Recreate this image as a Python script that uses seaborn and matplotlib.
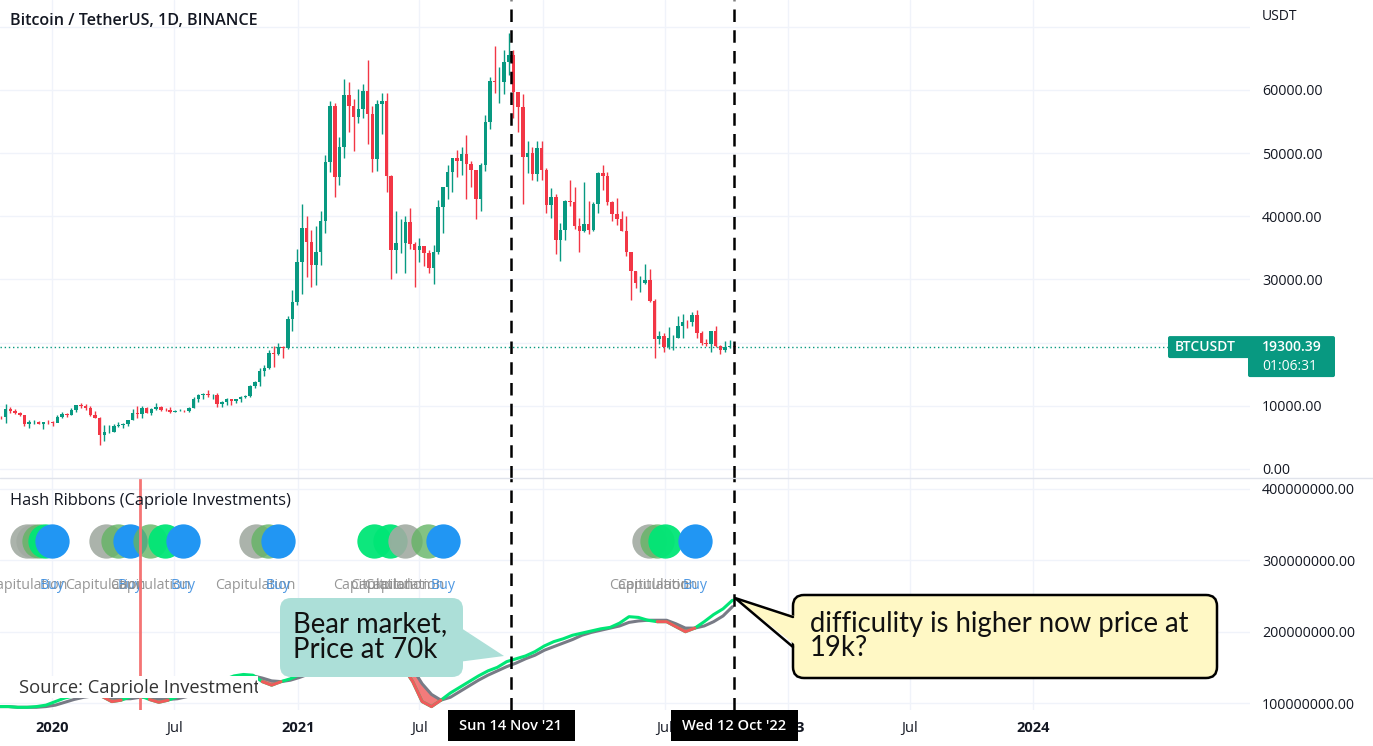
import numpy as np
import pandas as pd
import matplotlib
matplotlib.use("Agg")
import matplotlib.pyplot as plt
import matplotlib.dates as mdates
import matplotlib.transforms as mtransforms
from matplotlib.patches import FancyBboxPatch, Polygon, Rectangle
from matplotlib.lines import Line2D
from matplotlib.ticker import FuncFormatter
import seaborn as sns

sns.set_theme(style="white")
plt.rcParams["font.family"] = ["Open Sans", "DejaVu Sans"]

# -------------------------------------------------------------
# Data: weekly BTC/USDT candles (week starting 2019-10-14)
# -------------------------------------------------------------
candle_start = "2019-10-14"
first_open = 8300
close = [
    # 2019
    8220, 9530, 9200, 8800, 8500, 7050, 7400, 7500, 7100, 7500, 7400, 7350,
    # 2020
    8200, 8700, 8600, 9350, 10150, 9900, 9650, 8550, 8050, 5350, 5800, 5880, 6780,
    6900, 7120, 7700, 8900, 8700, 9680, 8900, 9450, 9750, 9350, 9300, 9000, 9250,
    9250, 9170, 9700, 11100, 11680, 11900, 11650, 11680, 10250, 10680, 11100, 10750,
    11050, 11400, 11500, 13100, 13800, 15500, 16000, 18400, 18200, 19350, 19200,
    23800, 26450, 32800,
    # 2021
    38200, 36000, 32300, 34300, 39200, 48600, 57400, 46200, 51000, 59200, 57500,
    55800, 57000, 59800, 56200, 49000, 57800, 58300, 46400, 34700, 35700, 35800,
    39100, 35600, 34700, 35300, 34200, 31800, 34300, 41500, 44600, 47000, 49300,
    48800, 49900, 48300, 47300, 42800, 48200, 54900, 61500, 61300, 61300, 64400,
    65500, 59700, 57300, 49400, 50100, 46700, 50800, 47300,
    # 2022
    41800, 43100, 36300, 37900, 42400, 42200, 38400, 37700, 38800, 37800, 42000,
    46800, 46400, 42200, 40400, 39500, 37700, 34300, 31300, 29400, 29500, 29900,
    26600, 20600, 21000, 19300, 20800, 20800, 22600, 23300, 23200, 24400, 21500,
    20000, 19800, 21800, 19400, 18900, 19300, 19400, 19300.39,
]
high = [
    8400, 10350, 9800, 9500, 9100, 8500, 7800, 7750, 7650, 7500, 7700, 7550,
    8500, 9000, 8800, 9600, 10200, 10500, 10250, 9950, 9200, 8200, 6900, 6950, 7200,
    7450, 7300, 7800, 9450, 10000, 9950, 9800, 9600, 10400, 9950, 9600, 9800, 9300,
    9450, 9300, 9750, 11450, 11800, 12100, 12450, 11800, 12100, 10700, 11200, 11000,
    11100, 11500, 11750, 13300, 14000, 15950, 16500, 18800, 19400, 19900, 19450,
    24300, 28400, 34800,
    41950, 40100, 37900, 38500, 40900, 49700, 58300, 58000, 52600, 61700, 61200,
    58600, 60100, 61000, 64800, 57500, 58400, 59500, 59600, 46600, 40800, 39500,
    40000, 41300, 36000, 36600, 35100, 34600, 35400, 42600, 44700, 48100, 49300,
    50500, 51000, 52900, 48800, 47400, 48500, 56100, 62000, 67000, 63700, 66300,
    69000, 66300, 59500, 59300, 51900, 51000, 52000, 52000,
    47600, 44500, 43500, 38900, 42600, 45800, 44700, 39800, 45400, 42500, 42300,
    47000, 48200, 47000, 42400, 42900, 40800, 40000, 34300, 31400, 30600, 32400,
    31700, 26900, 21900, 21500, 22500, 21200, 24200, 24600, 23600, 24900, 25200,
    21900, 20600, 21900, 22700, 19700, 20200, 20500, 19600,
]
low = [
    7900, 7300, 8900, 8700, 8400, 6800, 6500, 7200, 7050, 6400, 7100, 6850,
    7500, 8100, 8250, 8500, 9100, 9700, 9400, 8450, 8000, 3800, 4400, 5700, 5850,
    6700, 6450, 6800, 7700, 8100, 8100, 8800, 8600, 9350, 9250, 9200, 8900, 8950,
    9150, 9050, 9100, 9700, 10600, 11150, 11400, 11100, 9850, 9850, 10200, 10150,
    10400, 10550, 11200, 11400, 12900, 13200, 14800, 15800, 16200, 18000, 17600,
    19000, 21800, 26000,
    27700, 30400, 28800, 29200, 32300, 37400, 47000, 43000, 45000, 49300, 53300,
    50300, 54800, 55500, 51500, 47000, 47100, 53000, 43800, 30000, 31100, 34200,
    31000, 34800, 28800, 32700, 32100, 31000, 29300, 34000, 37300, 42800, 43900,
    46300, 46500, 42800, 44700, 39600, 40800, 47100, 53800, 59500, 58000, 59400,
    62300, 55600, 53300, 42000, 46800, 45700, 45600, 45700,
    40600, 39700, 34000, 32900, 36300, 41700, 38000, 34300, 37500, 37200, 37600,
    40500, 44200, 41800, 39200, 38600, 37600, 33700, 26700, 28700, 28000, 29300,
    26500, 17600, 19800, 18600, 19000, 18900, 20700, 20700, 22400, 22700, 20800,
    19600, 19500, 18500, 19300, 18200, 18500, 19100, 18900,
]
last_price = 19300.39
last_timer = "01:06:31"

# Hash ribbons, 30d (fast) and 60d (slow) hash rate SMA, millions, every 14 days
ribbon_start = "2019-10-14"
hr_fast_m = [
    95, 95, 94, 94, 95, 97, 102, 107, 110, 111,
    111, 109, 102, 104, 109, 110, 105, 101, 104, 109,
    111, 115, 120, 127, 133, 138, 140, 139, 130, 125,
    130, 134, 140, 146, 150, 153, 158, 162, 164, 165,
    158, 160, 163, 150, 130, 102, 95, 104, 114, 122,
    130, 138, 145, 150, 158, 162, 166, 172, 180, 186,
    190, 195, 198, 201, 204, 206, 212, 221, 220, 216,
    214, 214, 207, 200, 205, 214, 224, 232, 244,
]
hr_slow_m = [
    95, 95, 94, 94, 94, 95, 97, 101, 105, 108,
    110, 110, 107, 106, 106, 108, 108, 106, 105, 106,
    109, 112, 116, 121, 128, 134, 137, 138, 135, 131,
    130, 132, 136, 141, 146, 150, 154, 158, 162, 164,
    162, 160, 161, 157, 148, 127, 112, 104, 108, 116,
    124, 132, 139, 145, 151, 156, 162, 167, 174, 179,
    184, 189, 195, 199, 202, 205, 208, 213, 215, 216,
    216, 216, 211, 205, 205, 208, 214, 222, 235,
]

# Capitulation / buy signals
sig_dates = [
    "2019-11-25", "2019-12-04", "2019-12-13", "2019-12-22", "2020-01-01",
    "2020-03-21", "2020-04-08", "2020-04-26", "2020-05-26", "2020-06-17", "2020-07-14",
    "2020-10-30", "2020-11-17", "2020-12-02",
    "2021-04-24", "2021-05-18", "2021-06-09", "2021-07-14", "2021-08-05",
    "2022-06-08", "2022-06-20", "2022-07-02", "2022-08-15",
]
sig_kind = [
    "cap", "cap", "hold", "rec", "buy",
    "cap", "hold", "buy", "hold", "rec", "buy",
    "cap", "hold", "buy",
    "rec", "rec", "cap", "hold", "buy",
    "cap", "hold", "rec", "buy",
]
sig_text = [
    "Capitulation", "", "", "", "Buy",
    "Capitulation", "", "Buy", "Capitulation", "", "Buy",
    "Capitulation", "", "Buy",
    "Capitulation", "Capitulation", "Capitulation", "", "Buy",
    "Capitulation", "Capitulation", "", "Buy",
]

halving_date = "2020-05-11"
marker_dates = ["2021-11-14", "2022-10-12"]
marker_labels = ["Sun 14 Nov '21", "Wed 12 Oct '22"]

tick_dates = ["2020-01-01", "2020-07-01", "2021-01-01", "2021-07-01", "2022-01-01",
              "2022-07-01", "2023-01-01", "2023-07-01", "2024-01-01"]
tick_labels = ["2020", "Jul", "2021", "Jul", "2022", "Jul", "2023", "Jul", "2024"]
price_ticks = [0, 10000, 20000, 30000, 40000, 50000, 60000, 70000]
hash_ticks = [100e6, 200e6, 300e6, 400e6]

# -------------------------------------------------------------
# Figure layout (TradingView-like)
# -------------------------------------------------------------
W, H = 1373, 746
UP, DOWN = "#089981", "#f23645"
GRID = "#f0f3fa"
TXT = "#131722"
CALL_FONT = ["Lato", "DejaVu Sans"]
SIG_COL = {"cap": ("#a2aba2", 0.9), "hold": ("#64b464", 0.8),
           "rec": ("#00e676", 0.95), "buy": ("#2196f3", 1.0)}

fig = plt.figure(figsize=(W / 100, H / 100), dpi=100)
fig.patch.set_facecolor("white")
pix = mtransforms.Affine2D().scale(1 / W, 1 / H) + fig.transFigure


def fig_rect(x0, y0, x1, y1):
    return [x0 / W, 1 - y1 / H, (x1 - x0) / W, (y1 - y0) / H]


ax_p = fig.add_axes(fig_rect(0, 0, 1250, 478))
ax_h = fig.add_axes(fig_rect(0, 478, 1250, 710), sharex=ax_p)

# candles
close = np.array(close, dtype=float)
high = np.array(high, dtype=float)
low = np.array(low, dtype=float)
open_ = np.r_[first_open, close[:-1]]
weeks = pd.date_range(candle_start, periods=len(close), freq="7D") + pd.Timedelta(days=3)
cols = np.where(close >= open_, UP, DOWN)
ax_p.vlines(weeks, low, high, colors=cols, lw=1.0, zorder=2)
ax_p.bar(weeks, close - open_, bottom=open_, width=5.2, color=cols, lw=0, zorder=3)
ax_p.axhline(last_price, color=UP, ls=(0, (1, 2)), lw=1, zorder=1)

# hash ribbons
hr_x = pd.date_range(ribbon_start, periods=len(hr_fast_m), freq="14D")
fast = np.array(hr_fast_m) * 1e6
slow = np.array(hr_slow_m) * 1e6
below = fast < slow
ax_h.fill_between(hr_x, fast, slow, where=below, interpolate=True,
                  color="#f05a5a", alpha=0.8, lw=0, zorder=2)
sns.lineplot(x=hr_x, y=slow, ax=ax_h, color="#787b86", lw=2.2, zorder=3)
sns.lineplot(x=hr_x, y=fast, ax=ax_h, color="#00e676", lw=2.2, zorder=4)
red_mask = below | (np.r_[False, below[:-1]] & (fast <= slow))
ax_h.plot(hr_x, np.where(red_mask, fast, np.nan), color="#f05a5a", lw=2.2, zorder=5)

for d, k, t in zip(pd.to_datetime(sig_dates), sig_kind, sig_text):
    c, a = SIG_COL[k]
    ax_h.scatter([d], [327e6], s=610, color=c, alpha=a, lw=0, zorder=6, clip_on=False)
    if t:
        tc = "#3d8ee0" if t == "Buy" else "#8c8c8c"
        ax_h.text(d, 265e6, t, ha="center", va="center", fontsize=10.3, color=tc,
                  alpha=0.9, zorder=6)

ax_h.axvline(pd.Timestamp(halving_date), color="#f47474", lw=2, zorder=7)
for d in marker_dates:
    for ax in (ax_p, ax_h):
        ax.axvline(pd.Timestamp(d), color="black", lw=1.8, ls=(0, (5, 3.3)), zorder=8)

# axes styling
x0 = mdates.date2num(pd.Timestamp("2020-01-01"))
ax_p.set_xlim(x0 - 52 / 0.6717, x0 + (1250 - 52) / 0.6717)
ax_p.set_ylim(-1425, 74248)
ax_h.set_ylim(90.2e6, 415.4e6)

ax_h.set_xticks(pd.to_datetime(tick_dates))
ax_h.set_xticklabels(tick_labels)
for lab, txt in zip(ax_h.get_xticklabels(), tick_labels):
    if txt.isdigit():
        lab.set_fontweight("bold")
ax_h.tick_params(axis="x", length=0, pad=8, labelsize=10.5, labelcolor=TXT)
ax_p.tick_params(axis="x", length=0, labelbottom=False)

ax_p.set_yticks(price_ticks)
ax_h.set_yticks(hash_ticks)
ax_p.yaxis.set_major_formatter(FuncFormatter(lambda v, p: "" if v >= 70000 else f"{v:.2f}"))
ax_h.yaxis.set_major_formatter(FuncFormatter(lambda v, p: f"{v:.2f}"))
for ax in (ax_p, ax_h):
    ax.yaxis.tick_right()
    ax.tick_params(axis="y", length=0, pad=8.6, labelsize=10.3, labelcolor=TXT)
    ax.grid(True, color=GRID, lw=1)
    ax.set_axisbelow(True)
    ax.set_xlabel("")
    ax.set_ylabel("")
    for s in ax.spines.values():
        s.set_visible(False)

fig.add_artist(Line2D([0, W], [H - 478, H - 478], transform=pix, color="#e0e3eb", lw=1, zorder=1))

# -------------------------------------------------------------
# Texts, labels and callouts
# -------------------------------------------------------------
fig.text(10 / W, 1 - 21 / H, "Bitcoin / TetherUS, 1D, BINANCE", fontsize=11.6,
         color=TXT, va="center", fontweight="semibold")
fig.text(1262 / W, 1 - 17 / H, "USDT", fontsize=10, color=TXT, va="center")
fig.text(10 / W, 1 - 501 / H, "Hash Ribbons (Capriole Investments)", fontsize=11.8,
         color=TXT, va="center")

fig.canvas.draw()
py = H - ax_p.transData.transform((x0, last_price))[1]
fig.add_artist(FancyBboxPatch((1168, H - py - 11), 167, 22, boxstyle="round,pad=0,rounding_size=2",
                              transform=pix, fc=UP, ec="none", zorder=10))
fig.add_artist(FancyBboxPatch((1248, H - py - 30), 87, 22, boxstyle="round,pad=0,rounding_size=2",
                              transform=pix, fc=UP, ec="none", zorder=10))
fig.text(1175 / W, 1 - py / H, "BTCUSDT", fontsize=10, color="white", va="center",
         fontweight="semibold", zorder=11)
fig.text(1262 / W, 1 - py / H, f"{last_price:.2f}", fontsize=10, color="white",
         va="center", fontweight="semibold", zorder=11)
fig.text(1262 / W, 1 - (py + 19) / H, last_timer, fontsize=10, color="white",
         va="center", zorder=11)

for d, lab in zip(marker_dates, marker_labels):
    cx = ax_h.transData.transform((mdates.date2num(pd.Timestamp(d)), 0))[0]
    fig.add_artist(Rectangle((cx - 63, H - 741), 127, 31, transform=pix, fc="black",
                             ec="none", zorder=10))
    fig.text(cx / W, 1 - 726 / H, lab, fontsize=10.5, color="white", ha="center",
             va="center", fontweight="semibold", zorder=11)

src_bg = Rectangle((14, H - 698), 244, 22, transform=pix, fc="white", ec="none", zorder=15)
fig.add_artist(src_bg)
src = fig.text(19 / W, 1 - 693 / H, "Source: Capriole Investments", fontsize=13.2,
               color="#333333", va="baseline", zorder=16)
src.set_clip_path(src_bg)


def callout(bx0, by0, bx1, by1, side, base, tip, fc, ec=None, lw=0.0):
    fig.add_artist(FancyBboxPatch((bx0, H - by1), bx1 - bx0, by1 - by0,
                                  boxstyle="round,pad=0,rounding_size=11", transform=pix,
                                  fc=fc, ec=ec or "none", lw=lw, zorder=20))
    ex = bx0 if side == "left" else bx1
    inset = 5 if side == "left" else -5
    fig.add_artist(Polygon([(ex + inset, H - base[0]), (tip[0], H - tip[1]),
                            (ex + inset, H - base[1])], closed=True, transform=pix,
                           fc=fc, ec="none", zorder=21))
    if ec:
        fig.add_artist(Line2D([ex, tip[0], ex], [H - base[0], H - tip[1], H - base[1]],
                              transform=pix, color=ec, lw=lw, zorder=22,
                              solid_joinstyle="miter"))


callout(280, 598, 463, 677, "right", (626, 662), (504, 656), "#acdfd8")
fig.text(293 / W, 1 - 632 / H, "Bear market,", fontsize=19.8, family=CALL_FONT,
         color="#111111", va="baseline", zorder=23)
fig.text(293 / W, 1 - 658 / H, "Price at 70k", fontsize=19.8, family=CALL_FONT,
         color="#111111", va="baseline", zorder=23)

callout(793, 595, 1217, 678, "left", (617, 647), (735, 598), "#fff8c5", "black", 1.8)
fig.text(810 / W, 1 - 632 / H, "difficulity is higher now price at", fontsize=19.8,
         family=CALL_FONT, color="#111111", va="baseline", zorder=23)
fig.text(810 / W, 1 - 656 / H, "19k?", fontsize=19.8, family=CALL_FONT,
         color="#111111", va="baseline", zorder=23)

fig.savefig("out.png", dpi=100, facecolor="white")
